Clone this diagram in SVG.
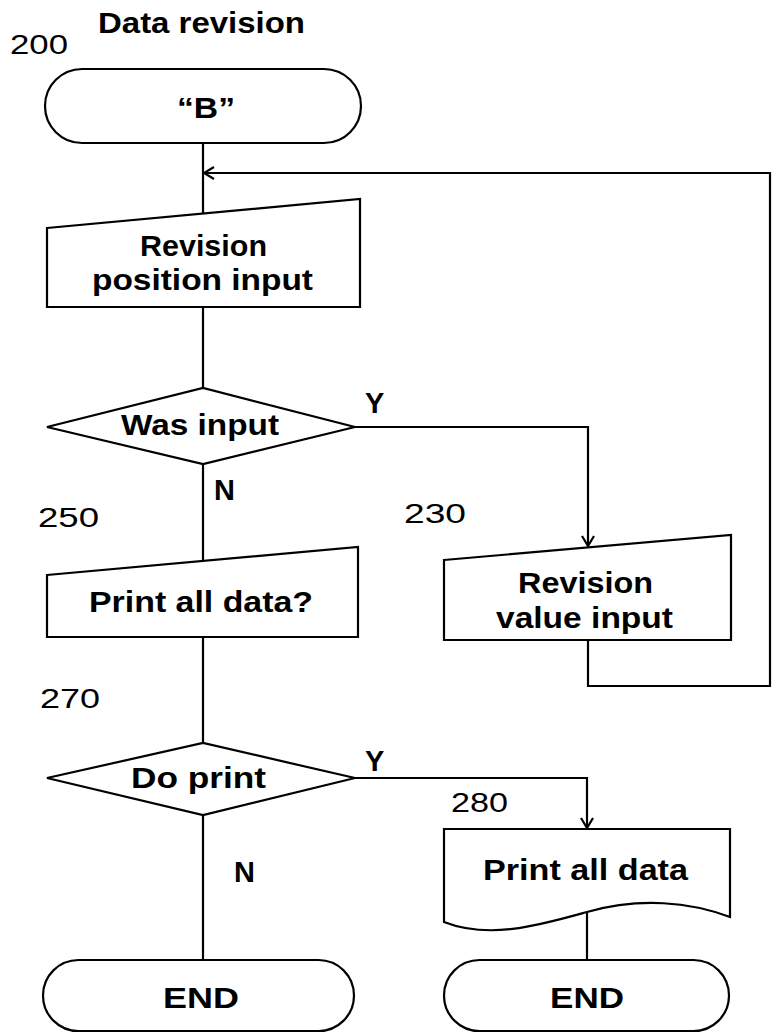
<svg xmlns="http://www.w3.org/2000/svg" width="773" height="1033" viewBox="0 0 773 1033">
<style>
.s{fill:#fff;stroke:#000;stroke-width:2.2}
.c{fill:none;stroke:#000;stroke-width:2.2}
.t{font-family:"Liberation Sans",Arial,sans-serif;font-size:29px;font-weight:bold;fill:#000}
.n{font-family:"Liberation Sans",Arial,sans-serif;font-size:28px;fill:#000}
</style>
<defs>
<marker id="a" markerWidth="14" markerHeight="14" refX="12" refY="7" orient="auto" markerUnits="userSpaceOnUse">
<path d="M2,1 L12,7 L2,13" fill="none" stroke="#000" stroke-width="2.2"/>
</marker>
</defs>
<rect width="773" height="1033" fill="#fff"/>
<g id="connectors">
<path class="c" d="M203,143 V214"/>
<path class="c" d="M203,307 V388"/>
<path class="c" d="M203,464 V561"/>
<path class="c" d="M203,637 V743"/>
<path class="c" d="M203,815 V960"/>
<path class="c" d="M355,427 H588 V546" marker-end="url(#a)"/>
<path class="c" d="M588,640 V686 H770 V173 H204" marker-end="url(#a)"/>
<path class="c" d="M355,778 H587 V828" marker-end="url(#a)"/>
<path class="c" d="M587,912 V960"/>
</g>
<g id="labels">
<text class="t" x="98" y="33" textLength="207" lengthAdjust="spacingAndGlyphs">Data revision</text>
<text class="n" x="10" y="54" textLength="58" lengthAdjust="spacingAndGlyphs">200</text>
<text class="n" x="38" y="527" textLength="61" lengthAdjust="spacingAndGlyphs">250</text>
<text class="n" x="404" y="523" textLength="62" lengthAdjust="spacingAndGlyphs">230</text>
<text class="n" x="40" y="708" textLength="60" lengthAdjust="spacingAndGlyphs">270</text>
<text class="n" x="451" y="812" textLength="57" lengthAdjust="spacingAndGlyphs">280</text>
<text class="t" x="365" y="413">Y</text>
<text class="t" x="214" y="500">N</text>
<text class="t" x="365" y="771">Y</text>
<text class="t" x="234" y="882">N</text>
</g>
<g id="start">
<rect class="s" x="45" y="69" width="316" height="74" rx="37" ry="37"/>
<text class="t" x="177" y="118" textLength="58" lengthAdjust="spacingAndGlyphs">“B”</text>
</g>
<g id="revision-position-input">
<path class="s" d="M47,228 L360,199 V307 H47 Z"/>
<text class="t" x="140" y="256" textLength="127" lengthAdjust="spacingAndGlyphs">Revision</text>
<text class="t" x="92" y="290" textLength="221" lengthAdjust="spacingAndGlyphs">position input</text>
</g>
<g id="was-input">
<path class="s" d="M47,427 L203,388 L355,427 L203,464 Z"/>
<text class="t" x="121" y="435" textLength="158" lengthAdjust="spacingAndGlyphs">Was input</text>
</g>
<g id="revision-value-input">
<path class="s" d="M444,560 L731,535 V640 H444 Z"/>
<text class="t" x="518" y="593" textLength="135" lengthAdjust="spacingAndGlyphs">Revision</text>
<text class="t" x="496" y="628" textLength="177" lengthAdjust="spacingAndGlyphs">value input</text>
</g>
<g id="print-all-data-query">
<path class="s" d="M47,575 L358,547 V637 H47 Z"/>
<text class="t" x="89" y="612" textLength="224" lengthAdjust="spacingAndGlyphs">Print all data?</text>
</g>
<g id="do-print">
<path class="s" d="M47,778 L203,743 L355,778 L203,815 Z"/>
<text class="t" x="131" y="788" textLength="135" lengthAdjust="spacingAndGlyphs">Do print</text>
</g>
<g id="print-all-data">
<path class="s" d="M444,829 H730 V917 C690,902 640,897 587,912 C540,925 490,940 444,922 Z"/>
<text class="t" x="483" y="880" textLength="205" lengthAdjust="spacingAndGlyphs">Print all data</text>
</g>
<g id="end-left">
<rect class="s" x="43" y="960" width="311" height="71" rx="35.5" ry="35.5"/>
<text class="t" x="163" y="1008" textLength="76" lengthAdjust="spacingAndGlyphs">END</text>
</g>
<g id="end-right">
<rect class="s" x="444" y="960" width="285" height="71" rx="35.5" ry="35.5"/>
<text class="t" x="550" y="1008" textLength="74" lengthAdjust="spacingAndGlyphs">END</text>
</g>
</svg>
